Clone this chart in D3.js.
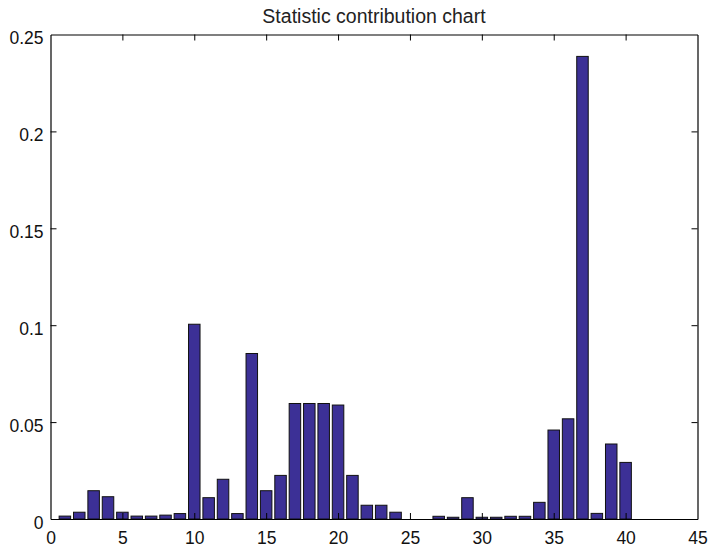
<!DOCTYPE html>
<html>
<head>
<meta charset="utf-8">
<script src="https://cdn.jsdelivr.net/npm/d3@7"></script>
<style>
  html, body { margin: 0; padding: 0; background: #fff; }
  svg { display: block; font-family: "Liberation Sans", Arial, Helvetica, sans-serif; }
</style>
</head>
<body>
<svg id="chart" width="709" height="547"></svg>
<script>
// Variable indices 1..40 and their statistic contributions
const indices = d3.range(1, 41);
const contributions = [
  0.0015, 0.0035, 0.0146, 0.0115, 0.0035, 0.0015, 0.0015, 0.0020, 0.0028, 0.1005,
  0.0110, 0.0205, 0.0028, 0.0854, 0.0146, 0.0225, 0.0596, 0.0596, 0.0596, 0.0588,
  0.0225, 0.0071, 0.0071, 0.0035, 0.0000, 0.0000, 0.0014, 0.0009, 0.0110, 0.0009,
  0.0009, 0.0014, 0.0014, 0.0086, 0.0459, 0.0517, 0.2387, 0.0029, 0.0387, 0.0292
];
const xTicks = [0, 5, 10, 15, 20, 25, 30, 35, 40, 45];
const yTicks = [0, 0.05, 0.1, 0.15, 0.2, 0.25];
const yTickLabels = ["0", "0.05", "0.1", "0.15", "0.2", "0.25"];
const chartTitle = "Statistic contribution chart";

const svg = d3.select("#chart");
const plotLeft = 50.5, plotRight = 697.5, plotTop = 34.5, plotBottom = 519;

const x = d3.scaleLinear().domain([0, 45]).range([plotLeft, plotRight]);
const y = d3.scaleLinear().domain([0, 0.25]).range([plotBottom, plotTop]);
const barW = (x(1) - x(0)) * 0.8;

// Bars
svg.append("g")
  .selectAll("rect")
  .data(indices.map((d, i) => ({ i: d, v: contributions[i] })).filter(d => d.v > 0))
  .join("rect")
  .attr("x", d => x(d.i) - barW / 2)
  .attr("y", d => y(d.v))
  .attr("width", barW)
  .attr("height", d => y(0) - y(d.v))
  .attr("fill", "#3c3096")
  .attr("stroke", "#111")
  .attr("stroke-width", 1);

// Box axes with inward ticks on all sides
const tickLen = 6;
const fmtY = v => yTickLabels[yTicks.indexOf(v)];

const axB = svg.append("g").attr("transform", `translate(0,${plotBottom})`)
  .call(d3.axisBottom(x).tickValues(xTicks).tickSize(-tickLen).tickSizeOuter(0));
const axT = svg.append("g").attr("transform", `translate(0,${plotTop})`)
  .call(d3.axisTop(x).tickValues(xTicks).tickSize(-tickLen).tickFormat("").tickSizeOuter(0));
const axL = svg.append("g").attr("transform", `translate(${plotLeft},0)`)
  .call(d3.axisLeft(y).tickValues(yTicks).tickFormat(fmtY).tickSize(-tickLen).tickSizeOuter(0));
const axR = svg.append("g").attr("transform", `translate(${plotRight},0)`)
  .call(d3.axisRight(y).tickValues(yTicks).tickSize(-tickLen).tickFormat("").tickSizeOuter(0));

[axB, axT, axL, axR].forEach(g => {
  g.select(".domain").attr("stroke", "#000").attr("stroke-width", 1.2);
  g.selectAll(".tick line").attr("stroke", "#000").attr("stroke-width", 1);
  g.selectAll("text").attr("font-size", 17.5).attr("fill", "#111")
    .attr("font-family", "'Liberation Sans', Arial, Helvetica, sans-serif");
});
axB.selectAll(".tick text").attr("dy", 0).attr("y", 24.5);
axL.selectAll(".tick text").attr("dy", 0).attr("x", -7).attr("y", 9);

// Hide tick marks at the box corners
axB.selectAll(".tick line").filter(d => d === 0 || d === 45).remove();
axT.selectAll(".tick line").filter(d => d === 0 || d === 45).remove();
axL.selectAll(".tick line").filter(d => d === 0 || d === 0.25).remove();
axR.selectAll(".tick line").filter(d => d === 0 || d === 0.25).remove();

// Title
svg.append("text")
  .attr("x", (plotLeft + plotRight) / 2)
  .attr("y", 23)
  .attr("text-anchor", "middle")
  .attr("font-size", 19.5)
  .attr("fill", "#222")
  .text(chartTitle);
</script>
</body>
</html>
